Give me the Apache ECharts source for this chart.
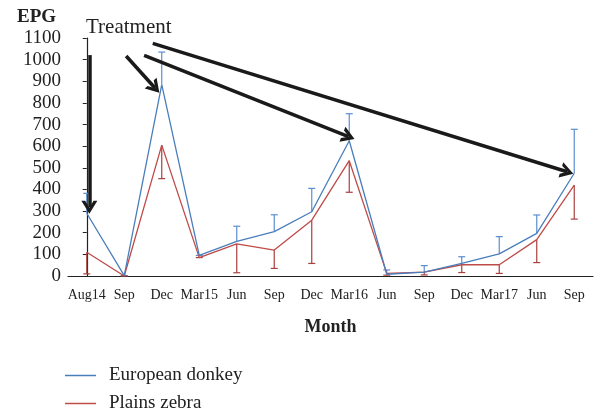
<!DOCTYPE html>
<html>
<head>
<meta charset="utf-8">
<script src="https://cdn.jsdelivr.net/npm/echarts@6/dist/echarts.min.js"></script>
<style>
  html, body { margin: 0; padding: 0; background: #fff; }
  #chart { width: 595px; height: 413px; }
</style>
</head>
<body>
<div id="chart"></div>
<script>
const months = ['Aug14', 'Sep', 'Dec', 'Mar15', 'Jun', 'Sep', 'Dec', 'Mar16', 'Jun', 'Sep', 'Dec', 'Mar17', 'Jun', 'Sep']
const yTicks = { min: 0, max: 1100, step: 100 }

const donkey = [290, 2, 885, 95, 160, 205, 297, 625, 8, 18, 58, 102, 197, 475]
const donkeyUpper = [382, 2, 1035, 95, 230, 283, 405, 750, 28, 48, 89, 182, 282, 678]

const zebra = [110, 0, 605, 85, 148, 120, 258, 533, 12, 18, 52, 52, 168, 420]
const zebraLower = [10, 0, 450, 85, 15, 35, 58, 387, 4, 5, 16, 12, 62, 263]

// treatment arrows: [x index, epg] start -> end
const arrows = [
  [[0.07, 1021], [0.07, 318]],
  [[1.05, 1017], [1.82, 869]],
  [[1.53, 1020], [6.98, 644]],
  [[1.76, 1075], [12.81, 482]]
]

const font = '"Liberation Serif", "DejaVu Serif", serif'
const blue = '#4a7ebb'
const red = '#be4b48'

function errorBars (vals, ends, color) {
  return {
    type: 'custom',
    silent: true,
    z: 1,
    data: vals.map((v, i) => [i, v, ends[i]]),
    encode: { x: 0, y: [1, 2] },
    renderItem (params, api) {
      const p0 = api.coord([api.value(0), api.value(1)])
      const p1 = api.coord([api.value(0), api.value(2)])
      const style = { stroke: color, lineWidth: 1.2 }
      return {
        type: 'group',
        children: [
          { type: 'line', shape: { x1: p0[0], y1: p0[1], x2: p1[0], y2: p1[1] }, style },
          { type: 'line', shape: { x1: p1[0] - 3.5, y1: p1[1], x2: p1[0] + 3.5, y2: p1[1] }, style }
        ]
      }
    }
  }
}

function legendRow (name, top) {
  return {
    left: 60,
    top,
    itemWidth: 31,
    itemHeight: 1.5,
    icon: 'rect',
    data: [name],
    textStyle: { color: '#222', fontSize: 19, fontFamily: font, padding: [0, 0, 0, 8] }
  }
}

const chart = echarts.init(document.getElementById('chart'))

chart.setOption({
  animation: false,
  backgroundColor: '#fff',
  textStyle: { fontFamily: font },
  grid: { left: 68, right: 2, top: 38, bottom: 137 },
  xAxis: [{
    type: 'category',
    data: months,
    boundaryGap: true,
    axisLine: { lineStyle: { color: '#222', width: 1.2 } },
    axisTick: { alignWithLabel: true, length: 4, lineStyle: { color: '#222' } },
    axisLabel: { color: '#222', fontSize: 14, fontFamily: font, margin: 12, interval: 0 },
    name: 'Month',
    nameLocation: 'middle',
    nameGap: 42,
    nameTextStyle: { color: '#222', fontSize: 18, fontWeight: 'bold', fontFamily: font }
  }, {
    type: 'value',
    min: -0.5,
    max: 13.5,
    show: false
  }],
  yAxis: {
    type: 'value',
    min: yTicks.min,
    max: yTicks.max,
    interval: yTicks.step,
    axisLine: { show: true, lineStyle: { color: '#222', width: 1.2 } },
    axisTick: { show: true, length: 4, lineStyle: { color: '#222' } },
    splitLine: { show: false },
    axisLabel: { color: '#222', fontSize: 19, fontFamily: font, margin: 7, formatter: v => String(v) }
  },
  legend: [
    legendRow('European donkey', 361),
    legendRow('Plains zebra', 389)
  ],
  graphic: [
    { type: 'text', left: 17, top: 8, style: { text: 'EPG', font: 'bold 19px ' + font, fill: '#222' } },
    { type: 'text', left: 86, top: 17, style: { text: 'Treatment', font: '21px ' + font, fill: '#222' } }
  ],
  series: [
    errorBars(donkey, donkeyUpper, '#5b8fd0'),
    errorBars(zebra, zebraLower, '#a8403e'),
    {
      name: 'European donkey',
      type: 'line',
      data: donkey,
      showSymbol: false,
      z: 3,
      lineStyle: { color: blue, width: 1.3 },
      itemStyle: { color: blue }
    },
    {
      name: 'Plains zebra',
      type: 'line',
      data: zebra,
      showSymbol: false,
      z: 2,
      lineStyle: { color: red, width: 1.3 },
      itemStyle: { color: red }
    },
    {
      type: 'line',
      xAxisIndex: 1,
      data: [],
      silent: true,
      z: 5,
      markLine: {
        silent: true,
        animation: false,
        symbol: ['none', 'path://M0,10 L5,0 L10,10 L7.6,10 L5,4.6 L2.4,10 Z'],
        symbolSize: [16, 13],
        label: { show: false },
        lineStyle: { color: '#1a1a1a', width: 3.5, type: 'solid' },
        data: arrows.map(a => [{ coord: a[0] }, { coord: a[1] }])
      }
    }
  ]
})
</script>
</body>
</html>
